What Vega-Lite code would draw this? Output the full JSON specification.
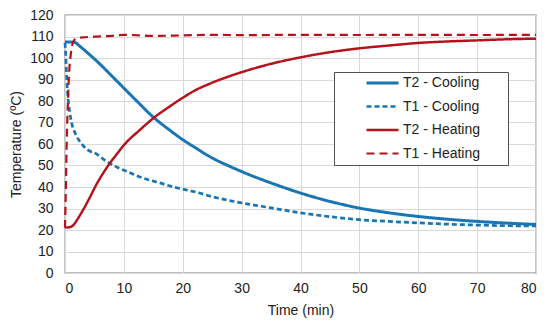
{
  "$schema": "https://vega.github.io/schema/vega-lite/v6.json",
  "width": 471,
  "height": 258,
  "autosize": {"type": "none"},
  "padding": {"left": 65, "top": 15, "right": 14, "bottom": 53},
  "background": "white",
  "config": {
    "font": "Liberation Sans",
    "view": {"stroke": "#7f7f7f", "strokeWidth": 1.3},
    "axis": {
      "grid": true,
      "gridColor": "#d9d9d9",
      "gridWidth": 1,
      "domain": false,
      "ticks": false,
      "labelFontSize": 14,
      "labelColor": "#222222",
      "titleFontSize": 14,
      "titleFontWeight": "normal",
      "titleColor": "#222222"
    }
  },
  "data": {
    "values": [
      {"t": 0, "T": 107.4, "s": "T2 - Cooling"},
      {"t": 1, "T": 107.4, "s": "T2 - Cooling"},
      {"t": 1.7, "T": 107.2, "s": "T2 - Cooling"},
      {"t": 2.5, "T": 105.5, "s": "T2 - Cooling"},
      {"t": 4, "T": 102, "s": "T2 - Cooling"},
      {"t": 6, "T": 97, "s": "T2 - Cooling"},
      {"t": 8, "T": 91.5, "s": "T2 - Cooling"},
      {"t": 10, "T": 86, "s": "T2 - Cooling"},
      {"t": 12, "T": 80.5, "s": "T2 - Cooling"},
      {"t": 15, "T": 72.5, "s": "T2 - Cooling"},
      {"t": 18, "T": 66, "s": "T2 - Cooling"},
      {"t": 20, "T": 62, "s": "T2 - Cooling"},
      {"t": 22, "T": 58.5, "s": "T2 - Cooling"},
      {"t": 25, "T": 53.5, "s": "T2 - Cooling"},
      {"t": 28, "T": 49.6, "s": "T2 - Cooling"},
      {"t": 30, "T": 47.2, "s": "T2 - Cooling"},
      {"t": 33, "T": 43.9, "s": "T2 - Cooling"},
      {"t": 36, "T": 40.9, "s": "T2 - Cooling"},
      {"t": 40, "T": 37.2, "s": "T2 - Cooling"},
      {"t": 45, "T": 33.3, "s": "T2 - Cooling"},
      {"t": 50, "T": 30.2, "s": "T2 - Cooling"},
      {"t": 55, "T": 28, "s": "T2 - Cooling"},
      {"t": 60, "T": 26.3, "s": "T2 - Cooling"},
      {"t": 65, "T": 25, "s": "T2 - Cooling"},
      {"t": 70, "T": 24, "s": "T2 - Cooling"},
      {"t": 75, "T": 23.2, "s": "T2 - Cooling"},
      {"t": 80, "T": 22.6, "s": "T2 - Cooling"},

      {"t": 0, "T": 107, "s": "T1 - Cooling"},
      {"t": 0.15, "T": 100, "s": "T1 - Cooling"},
      {"t": 0.3, "T": 90, "s": "T1 - Cooling"},
      {"t": 0.5, "T": 82, "s": "T1 - Cooling"},
      {"t": 0.8, "T": 75, "s": "T1 - Cooling"},
      {"t": 1.1, "T": 70, "s": "T1 - Cooling"},
      {"t": 1.5, "T": 66.5, "s": "T1 - Cooling"},
      {"t": 2, "T": 63.5, "s": "T1 - Cooling"},
      {"t": 3, "T": 59.5, "s": "T1 - Cooling"},
      {"t": 4, "T": 57, "s": "T1 - Cooling"},
      {"t": 5.4, "T": 55.3, "s": "T1 - Cooling"},
      {"t": 6.5, "T": 53, "s": "T1 - Cooling"},
      {"t": 7.6, "T": 51, "s": "T1 - Cooling"},
      {"t": 9, "T": 49, "s": "T1 - Cooling"},
      {"t": 10.5, "T": 47.3, "s": "T1 - Cooling"},
      {"t": 12, "T": 45.5, "s": "T1 - Cooling"},
      {"t": 14, "T": 43.5, "s": "T1 - Cooling"},
      {"t": 16, "T": 42, "s": "T1 - Cooling"},
      {"t": 18, "T": 40.3, "s": "T1 - Cooling"},
      {"t": 20, "T": 39, "s": "T1 - Cooling"},
      {"t": 22, "T": 37.8, "s": "T1 - Cooling"},
      {"t": 25, "T": 35.5, "s": "T1 - Cooling"},
      {"t": 30, "T": 32.6, "s": "T1 - Cooling"},
      {"t": 35, "T": 30.3, "s": "T1 - Cooling"},
      {"t": 40, "T": 28, "s": "T1 - Cooling"},
      {"t": 45, "T": 26.2, "s": "T1 - Cooling"},
      {"t": 50, "T": 24.8, "s": "T1 - Cooling"},
      {"t": 55, "T": 24, "s": "T1 - Cooling"},
      {"t": 60, "T": 23.3, "s": "T1 - Cooling"},
      {"t": 65, "T": 22.7, "s": "T1 - Cooling"},
      {"t": 70, "T": 22.3, "s": "T1 - Cooling"},
      {"t": 75, "T": 22, "s": "T1 - Cooling"},
      {"t": 80, "T": 21.9, "s": "T1 - Cooling"},

      {"t": 0, "T": 21.3, "s": "T2 - Heating"},
      {"t": 0.5, "T": 21.2, "s": "T2 - Heating"},
      {"t": 1, "T": 21.5, "s": "T2 - Heating"},
      {"t": 1.5, "T": 22.5, "s": "T2 - Heating"},
      {"t": 2, "T": 24.5, "s": "T2 - Heating"},
      {"t": 3, "T": 29, "s": "T2 - Heating"},
      {"t": 4, "T": 34, "s": "T2 - Heating"},
      {"t": 5.4, "T": 41.5, "s": "T2 - Heating"},
      {"t": 6.5, "T": 46.5, "s": "T2 - Heating"},
      {"t": 7.6, "T": 51, "s": "T2 - Heating"},
      {"t": 9, "T": 56, "s": "T2 - Heating"},
      {"t": 10, "T": 59.5, "s": "T2 - Heating"},
      {"t": 12.7, "T": 66.5, "s": "T2 - Heating"},
      {"t": 15, "T": 72, "s": "T2 - Heating"},
      {"t": 17.8, "T": 77.5, "s": "T2 - Heating"},
      {"t": 20, "T": 81.5, "s": "T2 - Heating"},
      {"t": 22, "T": 84.8, "s": "T2 - Heating"},
      {"t": 25, "T": 88.5, "s": "T2 - Heating"},
      {"t": 28, "T": 91.6, "s": "T2 - Heating"},
      {"t": 30, "T": 93.4, "s": "T2 - Heating"},
      {"t": 35, "T": 97.3, "s": "T2 - Heating"},
      {"t": 40, "T": 100.3, "s": "T2 - Heating"},
      {"t": 45, "T": 102.7, "s": "T2 - Heating"},
      {"t": 50, "T": 104.5, "s": "T2 - Heating"},
      {"t": 55, "T": 105.8, "s": "T2 - Heating"},
      {"t": 60, "T": 107, "s": "T2 - Heating"},
      {"t": 65, "T": 107.7, "s": "T2 - Heating"},
      {"t": 70, "T": 108.2, "s": "T2 - Heating"},
      {"t": 75, "T": 108.7, "s": "T2 - Heating"},
      {"t": 80, "T": 109, "s": "T2 - Heating"},

      {"t": 0, "T": 21, "s": "T1 - Heating"},
      {"t": 0.15, "T": 40, "s": "T1 - Heating"},
      {"t": 0.3, "T": 62, "s": "T1 - Heating"},
      {"t": 0.5, "T": 80, "s": "T1 - Heating"},
      {"t": 0.7, "T": 93, "s": "T1 - Heating"},
      {"t": 1, "T": 102, "s": "T1 - Heating"},
      {"t": 1.4, "T": 107.5, "s": "T1 - Heating"},
      {"t": 2, "T": 109.3, "s": "T1 - Heating"},
      {"t": 3, "T": 109.6, "s": "T1 - Heating"},
      {"t": 5, "T": 109.9, "s": "T1 - Heating"},
      {"t": 8, "T": 110.3, "s": "T1 - Heating"},
      {"t": 10, "T": 110.8, "s": "T1 - Heating"},
      {"t": 15, "T": 110.3, "s": "T1 - Heating"},
      {"t": 20, "T": 110.5, "s": "T1 - Heating"},
      {"t": 25, "T": 110.8, "s": "T1 - Heating"},
      {"t": 30, "T": 110.6, "s": "T1 - Heating"},
      {"t": 40, "T": 110.8, "s": "T1 - Heating"},
      {"t": 50, "T": 110.7, "s": "T1 - Heating"},
      {"t": 60, "T": 110.8, "s": "T1 - Heating"},
      {"t": 70, "T": 110.7, "s": "T1 - Heating"},
      {"t": 80, "T": 110.8, "s": "T1 - Heating"}
    ]
  },
  "mark": {"type": "line", "interpolate": "monotone"},
  "encoding": {
    "x": {
      "field": "t", "type": "quantitative",
      "scale": {"domain": [0, 80], "nice": false},
      "axis": {"values": [0, 10, 20, 30, 40, 50, 60, 70, 80], "title": "Time (min)", "labelPadding": 8, "titlePadding": 8}
    },
    "y": {
      "field": "T", "type": "quantitative",
      "scale": {"domain": [0, 120], "nice": false},
      "axis": {"values": [0, 10, 20, 30, 40, 50, 60, 70, 80, 90, 100, 110, 120], "title": "Temperature  (ºC)", "labelPadding": 12, "titlePadding": 6}
    },
    "color": {
      "field": "s", "type": "nominal",
      "scale": {
        "domain": ["T2 - Cooling", "T1 - Cooling", "T2 - Heating", "T1 - Heating"],
        "range": ["#1a75b5", "#1a75b5", "#b5121b", "#b5121b"]
      },
      "legend": {
        "title": null,
        "orient": "none",
        "legendX": 269,
        "legendY": 57,
        "strokeColor": "#505050",
        "fillColor": "white",
        "padding": 3,
        "symbolOffset": 28,
        "symbolType": "stroke",
        "symbolSize": 1024,
        "clipHeight": 16,
        "labelFontSize": 14,
        "labelColor": "#222222",
        "labelOffset": 3,
        "rowPadding": 7.5,
        "encode": {"entries": {"update": {"width": {"value": 168}}}}
      }
    },
    "strokeDash": {
      "field": "s", "type": "nominal",
      "scale": {
        "domain": ["T2 - Cooling", "T1 - Cooling", "T2 - Heating", "T1 - Heating"],
        "range": [[1, 0], [5, 3], [1, 0], [8, 5]]
      }
    },
    "strokeWidth": {
      "field": "s", "type": "nominal",
      "scale": {
        "domain": ["T2 - Cooling", "T1 - Cooling", "T2 - Heating", "T1 - Heating"],
        "range": [3, 2.2, 2, 2.5]
      }
    }
  }
}
